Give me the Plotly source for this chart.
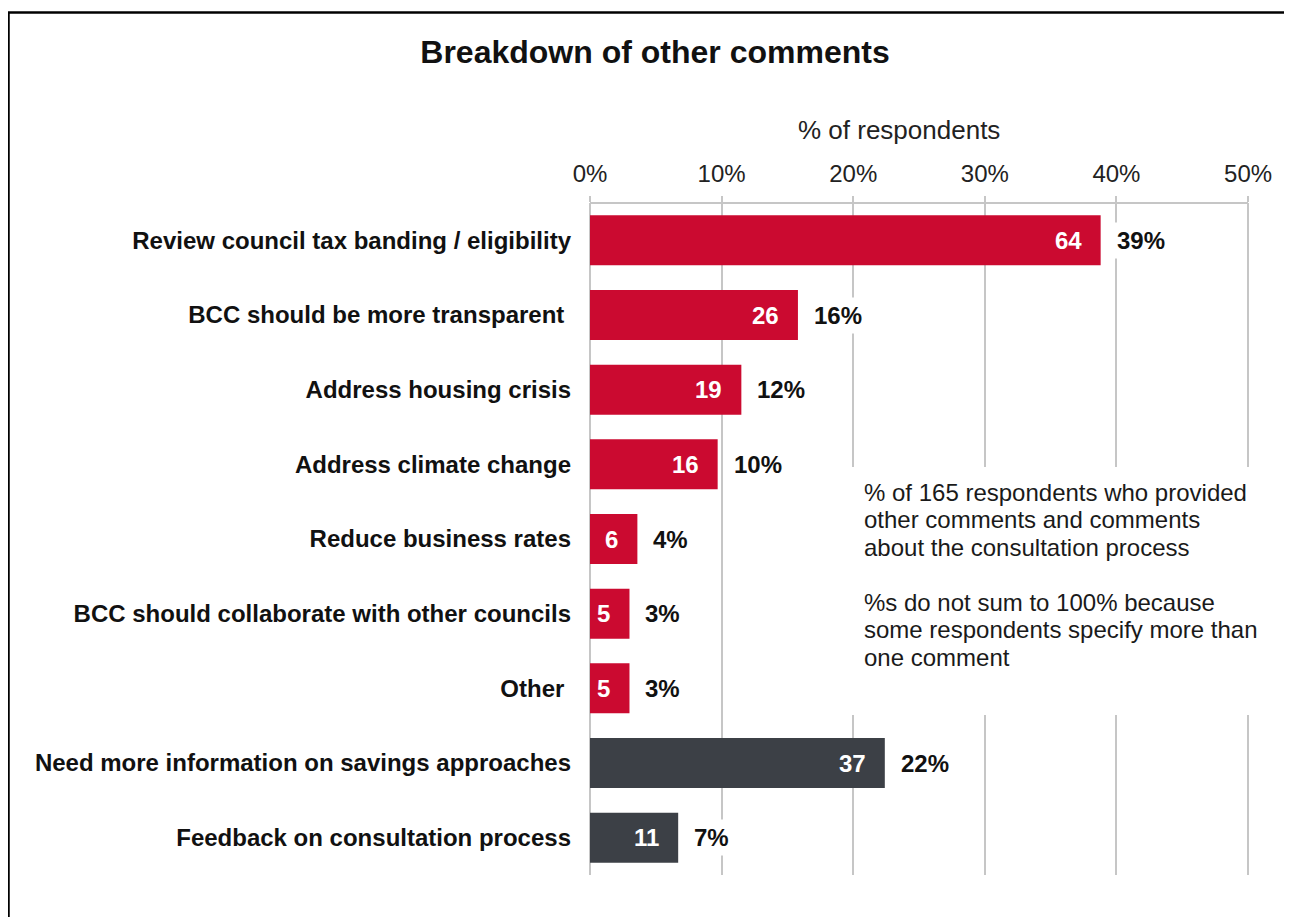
import plotly.graph_objects as go

# ---- data ----
other_categories = [
    "Review council tax banding / eligibility",
    "BCC should be more transparent\u00a0",
    "Address housing crisis",
    "Address climate change",
    "Reduce business rates",
    "BCC should collaborate with other councils",
    "Other\u00a0",
]
other_counts = [64, 26, 19, 16, 6, 5, 5]
other_pct = [38.8, 15.8, 11.5, 9.7, 3.6, 3.0, 3.0]

process_categories = [
    "Need more information on savings approaches",
    "Feedback on consultation process",
]
process_counts = [37, 11]
process_pct = [22.4, 6.7]

x_ticks = [0, 10, 20, 30, 40, 50]
x_tick_labels = ["0%", "10%", "20%", "30%", "40%", "50%"]

title_text = "Breakdown of other comments"
axis_title = "% of respondents"
note_lines = [
    "% of 165 respondents who provided",
    "other comments and comments",
    "about the consultation process",
    "",
    "%s do not sum to 100% because",
    "some respondents specify more than",
    "one comment",
]

# ---- style ----
RED = "#CB0A30"
DARK = "#3C4046"
GRID = "#C6C6C6"
FONT = "Arial, Liberation Sans, sans-serif"
OFF = 8  # page body offset
W, H = 1284, 909
X_MAX = 50.3
PLOT_W = 662  # px for the plotted range

all_categories = other_categories + process_categories

fig = go.Figure()
fig.add_trace(go.Bar(y=other_categories, x=other_pct, orientation="h",
                     marker=dict(color=RED, line=dict(width=0)), width=0.67,
                     hoverinfo="skip", showlegend=False))
fig.add_trace(go.Bar(y=process_categories, x=process_pct, orientation="h",
                     marker=dict(color=DARK, line=dict(width=0)), width=0.67,
                     hoverinfo="skip", showlegend=False))

annotations = []
for cats, counts, pcts in [(other_categories, other_counts, other_pct),
                           (process_categories, process_counts, process_pct)]:
    for c, n, p in zip(cats, counts, pcts):
        annotations.append(dict(x=p, y=c, xref="x", yref="y", text=f"<b>{n}</b>",
                                showarrow=False, xanchor="right", xshift=-17,
                                font=dict(family=FONT, size=24, color="white")))
        annotations.append(dict(x=p, y=c, xref="x", yref="y", text=f"<b>{round(p):.0f}%</b>",
                                showarrow=False, xanchor="left", xshift=11,
                                bgcolor="white", borderpad=4,
                                font=dict(family=FONT, size=24, color="#111111")))


def px_x(sx):
    return (sx - 590) / PLOT_W


def px_y(sy):
    return (875 - sy) / 672


# axis title
annotations.append(dict(x=px_x(898.5), y=px_y(130), xref="paper", yref="paper",
                        text=axis_title, showarrow=False, xanchor="center", yanchor="middle",
                        font=dict(family=FONT, size=26, color="#222222")))

# note lines
note_y = [492, 519.5, 547, None, 602, 629.5, 657]
for line, py in zip(note_lines, note_y):
    if not line:
        continue
    annotations.append(dict(x=px_x(862), y=px_y(py), xref="paper", yref="paper",
                            text=line, showarrow=False, xanchor="left", yanchor="middle",
                            font=dict(family=FONT, size=24, color="#1a1a1a")))

shapes = [
    # white box behind note
    dict(type="rect", xref="paper", yref="paper", x0=px_x(851), x1=px_x(1262),
         y0=px_y(715), y1=px_y(467), fillcolor="white", line=dict(width=0),
         layer="above"),
    # outer border (top and left)
    dict(type="line", xref="paper", yref="paper", x0=px_x(8), x1=px_x(1310),
         y0=px_y(12.5), y1=px_y(12.5), line=dict(color="black", width=2.5)),
    dict(type="line", xref="paper", yref="paper", x0=px_x(8.5), x1=px_x(8.5),
         y0=px_y(12), y1=px_y(940), line=dict(color="black", width=2.5)),
]

fig.update_layout(
    width=W, height=H,
    margin=dict(l=590 - OFF, r=W - (590 - OFF) - PLOT_W, t=203 - OFF, b=H - (875 - OFF), pad=0),
    paper_bgcolor="white", plot_bgcolor="white",
    font=dict(family=FONT, color="#111111"),
    title=dict(text=f"<b>{title_text}</b>", x=(655 - OFF) / W, xref="container", xanchor="center",
               y=1 - (52 - OFF) / H, yref="container", yanchor="middle",
               font=dict(family=FONT, size=32, color="#111111")),
    annotations=annotations,
    shapes=shapes,
)

fig.update_xaxes(range=[0, X_MAX], side="top", tickvals=x_ticks, ticktext=x_tick_labels,
                 showgrid=True, gridcolor=GRID, gridwidth=2,
                 zeroline=True, zerolinecolor=GRID, zerolinewidth=2,
                 showline=False,
                 ticks="outside", ticklen=6, tickcolor=GRID, tickwidth=2,
                 ticklabelstandoff=4,
                 tickfont=dict(family=FONT, size=24, color="#222222"), fixedrange=True)
# top axis line spanning 0%..50% only
shapes.append(dict(type="line", xref="x", yref="paper", x0=x_ticks[0], x1=x_ticks[-1], y0=1, y1=1,
                   line=dict(color=GRID, width=2)))
fig.update_layout(shapes=shapes)
fig.update_yaxes(categoryorder="array", categoryarray=all_categories, autorange="reversed",
                 showgrid=False, zeroline=False, showline=False, ticks="",
                 ticklabelstandoff=18,
                 tickvals=all_categories, ticktext=[f"<b>{c}</b>" for c in all_categories],
                 tickfont=dict(family=FONT, size=24, color="#111111"), fixedrange=True)

fig.write_html("out.html")
